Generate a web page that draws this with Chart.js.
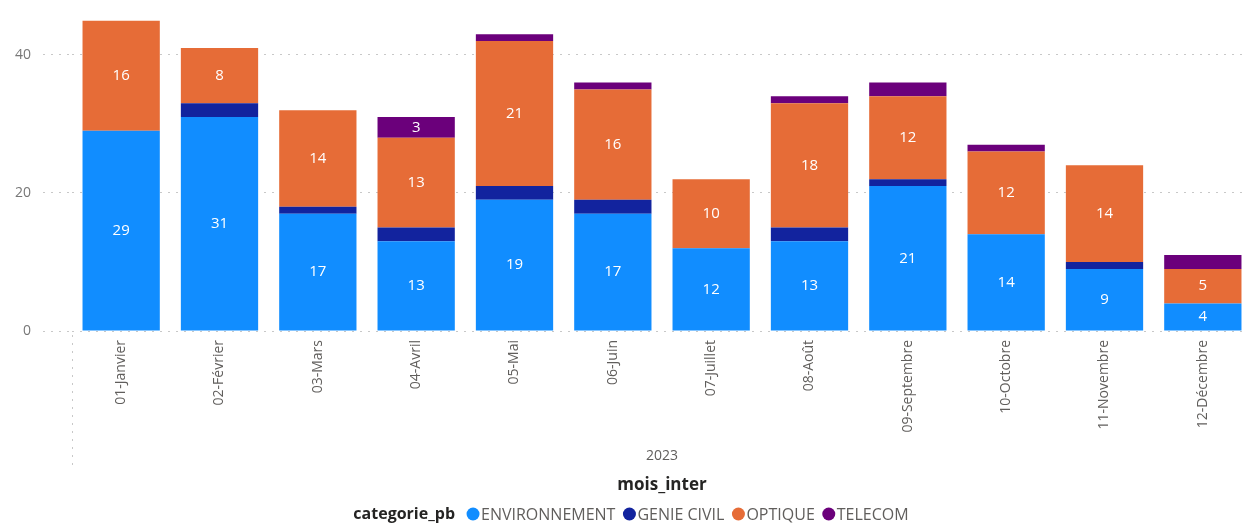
<!DOCTYPE html>
<html>
<head>
<meta charset="utf-8">
<script src="https://cdn.jsdelivr.net/npm/chart.js@4/dist/chart.umd.min.js"></script>
<style>
  html, body { margin: 0; padding: 0; background: #fff; overflow: hidden; }
  #wrap { width: 1252px; height: 523px; }
</style>
</head>
<body>
<div id="wrap"><canvas id="chart" width="1252" height="523"></canvas></div>
<script>
const months = ['01-Janvier', '02-Février', '03-Mars', '04-Avril', '05-Mai', '06-Juin',
  '07-Juillet', '08-Août', '09-Septembre', '10-Octobre', '11-Novembre', '12-Décembre'];
const environnement = [29, 31, 17, 13, 19, 17, 12, 13, 21, 14, 9, 4];
const genieCivil = [0, 2, 1, 2, 2, 2, 0, 2, 1, 0, 1, 0];
const optique = [16, 8, 14, 13, 21, 16, 10, 18, 12, 12, 14, 5];
const telecom = [0, 0, 0, 3, 1, 1, 0, 1, 2, 1, 0, 2];
const yTicks = [0, 20, 40];
const seriesNames = ['ENVIRONNEMENT', 'GENIE CIVIL', 'OPTIQUE', 'TELECOM'];
const seriesColors = ['#118DFF', '#12239E', '#E66C37', '#6B007B'];

const FONT = '"Open Sans", "Noto Sans", sans-serif';

// white value labels in the middle of each segment (small ones are skipped)
const segmentLabels = {
  id: 'segmentLabels',
  afterDatasetsDraw(chart) {
    const ctx = chart.ctx;
    ctx.save();
    ctx.font = '15px ' + FONT;
    ctx.fillStyle = '#ffffff';
    ctx.textAlign = 'center';
    ctx.textBaseline = 'middle';
    chart.data.datasets.forEach((ds, i) => {
      const meta = chart.getDatasetMeta(i);
      meta.data.forEach((bar, j) => {
        const v = ds.data[j];
        if (v < 3) return;
        const p = bar.getProps(['x', 'y', 'base'], true);
        ctx.fillText(String(v), p.x, (p.y + p.base) / 2);
      });
    });
    ctx.restore();
  }
};

// hierarchy line, "2023", axis title and the inline legend
const extras = {
  id: 'extras',
  afterDraw(chart) {
    const ctx = chart.ctx;
    const area = chart.chartArea;
    const mid = (area.left + area.right) / 2;
    ctx.save();

    ctx.strokeStyle = '#c8c8c8';
    ctx.setLineDash([2, 6]);
    ctx.beginPath();
    ctx.moveTo(area.left + 0.5, area.bottom + 4);
    ctx.lineTo(area.left + 0.5, 470);
    ctx.stroke();
    ctx.setLineDash([]);

    ctx.textBaseline = 'middle';
    ctx.textAlign = 'center';
    ctx.fillStyle = '#605E5C';
    ctx.font = '14px ' + FONT;
    ctx.fillText('2023', mid, 456);

    ctx.fillStyle = '#252423';
    ctx.font = 'bold 17px ' + FONT;
    ctx.fillText('mois_inter', mid, 485);

    // legend
    ctx.textAlign = 'left';
    const y = 514;
    ctx.font = 'bold 16px ' + FONT;
    const titleW = ctx.measureText('categorie_pb').width;
    ctx.font = '16px ' + FONT;
    const itemW = seriesNames.map(n => 14 + ctx.measureText(n).width);
    const total = titleW + 12 + itemW.reduce((a, b) => a + b, 0) + 8 * (itemW.length - 1);
    let x = 631 - total / 2;
    ctx.font = 'bold 16px ' + FONT;
    ctx.fillStyle = '#252423';
    ctx.fillText('categorie_pb', x, y);
    x += titleW + 12;
    ctx.font = '16px ' + FONT;
    seriesNames.forEach((n, i) => {
      ctx.fillStyle = seriesColors[i];
      ctx.beginPath();
      ctx.arc(x + 6, y, 6.5, 0, Math.PI * 2);
      ctx.fill();
      ctx.fillStyle = '#605E5C';
      ctx.fillText(n, x + 14, y + 1);
      x += itemW[i] + 8;
    });
    ctx.restore();
  }
};

const datasets = [environnement, genieCivil, optique, telecom].map((d, i) => ({
  label: seriesNames[i],
  data: d,
  backgroundColor: seriesColors[i],
  borderWidth: 0,
  barPercentage: 0.786,
  categoryPercentage: 1
}));

new Chart(document.getElementById('chart'), {
  type: 'bar',
  data: { labels: months, datasets: datasets },
  options: {
    responsive: false,
    animation: false,
    layout: { padding: { top: 19, left: 0, right: 0, bottom: 0 } },
    plugins: {
      legend: { display: false },
      tooltip: { enabled: false }
    },
    scales: {
      x: {
        stacked: true,
        grid: { display: false, drawTicks: false },
        border: { display: false },
        ticks: {
          minRotation: 90,
          maxRotation: 90,
          padding: 9,
          color: '#605E5C',
          font: { family: FONT, size: 14 }
        },
        afterFit: (scale) => { scale.height = 192; }
      },
      y: {
        stacked: true,
        min: 0,
        max: 45,
        border: { display: false, dash: [2, 6] },
        grid: {
          color: '#c8c8c8',
          tickLength: 29,
          tickColor: '#c8c8c8',
          tickBorderDash: [2, 6]
        },
        ticks: {
          padding: 12,
          color: '#777777',
          font: { family: FONT, size: 14 }
        },
        afterBuildTicks: (scale) => { scale.ticks = yTicks.map(v => ({ value: v })); },
        afterFit: (scale) => { scale.width = 72; }
      }
    }
  },
  plugins: [segmentLabels, extras]
});
</script>
</body>
</html>
